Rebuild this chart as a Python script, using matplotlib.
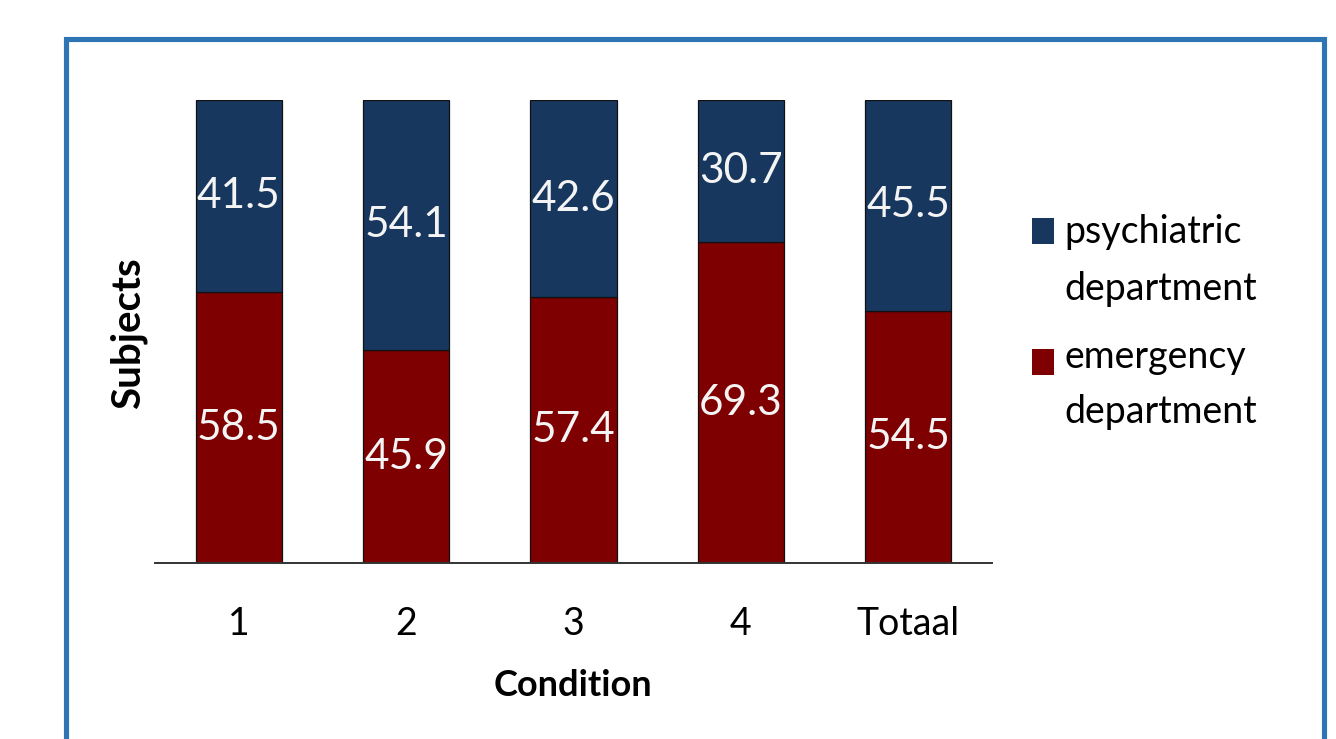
import matplotlib
matplotlib.use("Agg")
import matplotlib.pyplot as plt
from matplotlib.patches import Rectangle

plt.rcParams["font.family"] = ["Lato", "DejaVu Sans"]

# Share of subjects per condition (percent)
conditions = ["1", "2", "3", "4", "Totaal"]
emergency = [58.5, 45.9, 57.4, 69.3, 54.5]
psychiatric = [41.5, 54.1, 42.6, 30.7, 45.5]

blue = "#17375E"
red = "#7F0000"

W, H = 1336, 739
fig = plt.figure(figsize=(W / 100, H / 100), dpi=100)


def fx(px):
    return px / W


def fy(py):
    return 1 - py / H


ax = fig.add_axes([fx(155), fy(563), fx(992) - fx(155), fy(100) - fy(563)])
x = range(len(conditions))
bw = 0.514
ax.bar(x, emergency, width=bw, color=red, edgecolor="#111111", linewidth=0.9)
ax.bar(x, psychiatric, width=bw, bottom=emergency, color=blue,
       edgecolor="#111111", linewidth=0.9)

for i in x:
    ax.text(i, emergency[i] / 2, f"{emergency[i]:.1f}", ha="center", va="center",
            color="#F4F4F4", fontsize=30.5)
    ax.text(i, emergency[i] + psychiatric[i] / 2, f"{psychiatric[i]:.1f}", ha="center",
            va="center", color="#F4F4F4", fontsize=30.5)

ax.set_xlim(-0.5, 4.5)
ax.set_ylim(0, 100)
ax.set_xticks(list(x))
ax.set_xticklabels(conditions, fontsize=27)
ax.tick_params(axis="x", length=0, pad=31)
ax.set_yticks([])
for side in ["left", "right", "top"]:
    ax.spines[side].set_visible(False)
ax.spines["bottom"].set_color("#333333")
ax.spines["bottom"].set_linewidth(1.4)

fig.text(fx(573), fy(685), "Condition", ha="center", va="center",
         fontsize=26, fontweight="bold")
fig.text(fx(128), fy(333), "Subjects", ha="center", va="center", rotation=90,
         fontsize=29, fontweight="bold")

# Legend: colour swatch beside the first line of each entry
legend_rows = [(blue, 218, [(243, "psychiatric"), (300, "department")]),
               (red, 349, [(368, "emergency"), (423, "department")])]
for color, top, lines in legend_rows:
    fig.patches.append(Rectangle((fx(1032), fy(top + 26)), fx(22), fy(top) - fy(top + 26),
                                 transform=fig.transFigure, facecolor=color,
                                 edgecolor="none"))
    for base, word in lines:
        fig.text(fx(1064), fy(base), word, ha="left", va="baseline", fontsize=27)

# Outer frame
fig.patches.append(Rectangle((fx(65.5), fy(741)), fx(1323.5) - fx(65.5), fy(38.5) - fy(741),
                             transform=fig.transFigure, facecolor="none",
                             edgecolor="#2E75B6", linewidth=3.7))

fig.savefig("out.png", dpi=100)
